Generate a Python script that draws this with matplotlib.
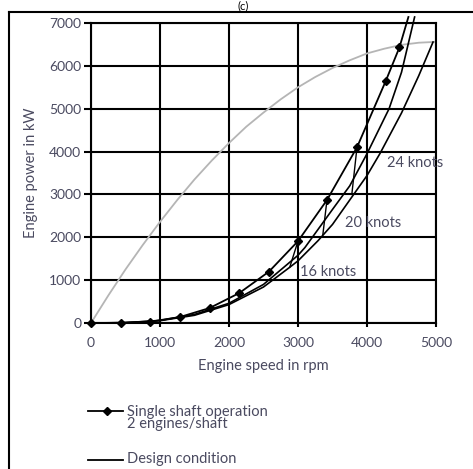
import matplotlib
matplotlib.use("Agg")
import matplotlib.pyplot as plt
from matplotlib.lines import Line2D

plt.rcParams['font.family'] = ['Lato', 'DejaVu Sans']

# engine limit curve (grey)
limit_rpm = [0, 250, 500, 750, 1000, 1250, 1500, 1750, 2000, 2250, 2500, 2750,
             3000, 3250, 3500, 3750, 4000, 4250, 4500, 4750, 5000]
limit_kw = [0, 640, 1250, 1820, 2360, 2870, 3350, 3790, 4200, 4580, 4910, 5220,
            5500, 5740, 5950, 6130, 6290, 6400, 6490, 6540, 6560]

# single shaft operation, 2 engines/shaft (markers)
single_rpm = [0, 430, 860, 1290, 1720, 2150, 2580, 3000, 3420, 3855, 4270, 4470]
single_kw = [0, 5, 30, 140, 350, 700, 1200, 1910, 2870, 4100, 5640, 6430]
single_ext_rpm = [4470, 4600]
single_ext_kw = [6430, 7140]

# second steep curve
b_rpm = [0, 500, 1000, 1500, 2000, 2500, 3000, 3100, 3500, 3750, 4000, 4320, 4500, 4690]
b_kw = [0, 8, 60, 200, 460, 900, 1580, 1760, 2650, 3200, 3950, 5000, 5850, 7140]

# design condition curve
design_rpm = [0, 500, 1000, 1500, 2000, 2500, 2880, 3000, 3290, 3500, 4000, 4190, 4500, 4750, 4957]
design_kw = [0, 7, 54, 180, 430, 840, 1300, 1450, 1920, 2300, 3440, 3960, 4900, 5770, 6556]

# iso-speed connector segments
speed_labels = ['16 knots', '20 knots', '24 knots']
speed_label_rpm = [3029, 3681, 4290]
speed_label_kw = [1190, 2333, 3733]
conn_rpm = [[3000, 2880], [3420, 3360], [3855, 3780]]
conn_kw = [[1910, 1300], [2870, 2060], [4100, 3000]]

xticks = [0, 1000, 2000, 3000, 4000, 5000]
yticks = [0, 1000, 2000, 3000, 4000, 5000, 6000, 7000]

txtc = '#4a4a60'
fs = 10.5

fig = plt.figure(figsize=(4.73, 4.69), dpi=100)
ax = fig.add_axes([91/473, 1-323/469, 345/473, 300/469])

ax.set_xlim(0, 5000)
ax.set_ylim(0, 7000)
ax.set_xticks(xticks)
ax.set_yticks(yticks)
ax.grid(True, color='black', lw=1.5)
ax.set_axisbelow(True)
for s in ax.spines.values():
    s.set_color('black')
    s.set_linewidth(1.5)
ax.tick_params(axis='y', length=5, width=1.5, pad=2, labelsize=10, labelcolor=txtc)
ax.tick_params(axis='x', length=3, width=1.5, pad=7, labelsize=10, labelcolor=txtc)

ax.plot(limit_rpm, limit_kw, color='#b5b5b5', lw=1.3, clip_on=False)
ax.plot(design_rpm, design_kw, color='black', lw=1.2, clip_on=False)
ax.plot(b_rpm, b_kw, color='black', lw=1.2, clip_on=False)
ax.plot(single_rpm, single_kw, color='black', lw=1.3, marker='D', ms=4.5, clip_on=False)
ax.plot(single_ext_rpm, single_ext_kw, color='black', lw=1.3, clip_on=False)
for cr, ck in zip(conn_rpm, conn_kw):
    ax.plot(cr, ck, color='black', lw=1.0)
for lab, r, k in zip(speed_labels, speed_label_rpm, speed_label_kw):
    ax.text(r, k, lab, fontsize=fs, color=txtc, va='center', ha='left')

ax.set_xlabel('Engine speed in rpm', fontsize=fs, color=txtc, labelpad=7)
ax.set_ylabel('Engine power in kW', fontsize=fs, color=txtc, labelpad=8)

W, H = 473, 469
def fx(p):
    return p / W
def fy(p):
    return 1 - p / H

# outer frame (cut off at right and bottom)
fig.add_artist(Line2D([fx(9), fx(473)], [fy(12.5), fy(12.5)], color='black', lw=1.5))
fig.add_artist(Line2D([fx(9), fx(9)], [fy(12.5), fy(469)], color='black', lw=1.5))

# title
fig.text(fx(243), fy(0.5), '(c)', fontsize=8, ha='center', va='top', color='black')

# legend
fig.add_artist(Line2D([fx(88), fx(123)], [fy(411), fy(411)], color='black', lw=1.3))
fig.add_artist(Line2D([fx(107)], [fy(411)], color='black', marker='D', ms=4.5, lw=0))
fig.text(fx(127), fy(418), 'Single shaft operation\n2 engines/shaft', fontsize=fs,
         color=txtc, ha='left', va='center', linespacing=0.8)
fig.add_artist(Line2D([fx(88), fx(123)], [fy(460), fy(460)], color='black', lw=1.3))
fig.text(fx(127), fy(459), 'Design condition', fontsize=fs, color=txtc, ha='left', va='center')

fig.savefig('out.png', dpi=100)
